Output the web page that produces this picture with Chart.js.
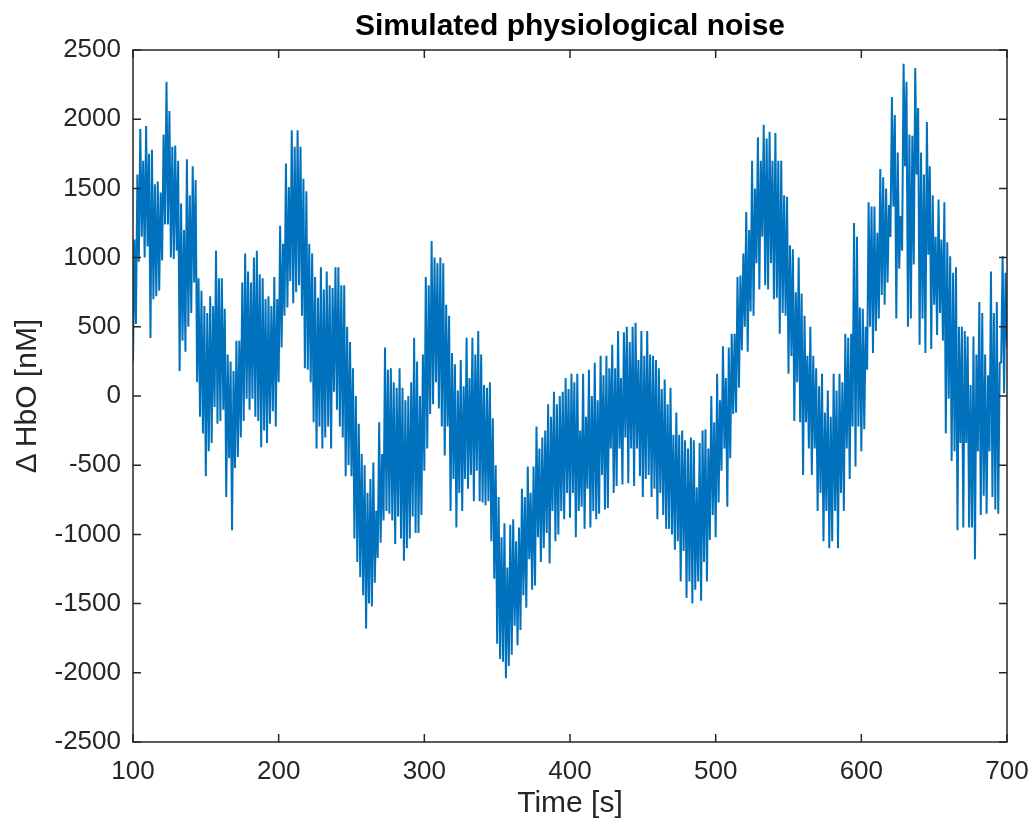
<!DOCTYPE html>
<html>
<head>
<meta charset="utf-8">
<title>Simulated physiological noise</title>
<script src="https://cdn.jsdelivr.net/npm/chart.js@4/dist/chart.umd.min.js"></script>
<style>
  html, body { margin: 0; padding: 0; background: #fff; }
</style>
</head>
<body>
<canvas id="grafico" width="1033" height="827"></canvas>
<script>
// amostragem: um valor por segundo, de 100 s a 700 s
const tInicio = 100;
const tPasso = 1;

// ΔHbO [nM] (picos, vales e o miolo da faixa), 20 s por linha
const hbo = [
  250, 1130, 520, 1600, 970, 1930, 1150, 1700, 1000, 1950, 1080, 1750, 420, 1780, 700, 1530, 720, 1550, 760, 1470,                 // 100
  980, 1890, 1240, 2270, 1240, 2060, 1000, 1800, 990, 1810, 1050, 1700, 180, 1390, 400, 1200, 320, 1710, 500, 1450,                 // 120
  600, 1660, 820, 1560, 100, 850, -150, 760, -270, 650, -580, 600, -400, 720, -340, 650, -80, 1050, -200, 850,                      // 140
  -180, 850, -100, 630, -730, 300, -450, 250, -970, 180, -520, 400, -440, 400, -300, 820, -180, 1030, -20, 900,                     // 160
  -100, 820, -20, 1000, -150, 1050, -180, 880, -370, 850, -250, 700, -340, 720, -200, 650, -110, 860, -220, 700,                    // 180
  100, 1230, 350, 1100, 580, 1680, 640, 1510, 830, 1920, 670, 1800, 750, 1920, 800, 1800, 580, 1570, 200, 1480,                     // 200
  190, 1100, 100, 1030, -190, 860, -380, 710, -220, 930, -380, 770, -300, 900, -220, 800, -380, 780, 30, 930,                       // 220
  -100, 930, -220, 800, -300, 800, -580, 500, -500, 390, -580, 200, -1030, 0, -1200, -200, -1310, -420, -1440, -500,                // 240
  -1680, -700, -1500, -600, -1520, -480, -1350, -830, -1170, -190, -1060, -420, -900, 350, -830, 190, -850, 200, -900, 100,         // 260
  -1070, 60, -870, 200, -1030, 60, -1190, -30, -1100, 0, -1030, 100, -870, 420, -990, 250, -990, 0, -860, 300,                      // 280
  -540, 860, -380, 800, -130, 1120, -60, 1000, 100, 960, -90, 1000, -220, 960, -430, 660, -220, 580, -830, 310,                     // 300
  -600, 230, -950, 40, -700, 260, -830, 70, -600, 420, -670, 130, -570, 420, -760, 300, -540, 470, -760, 300,                       // 320
  -770, 80, -790, 60, -760, 100, -1050, -160, -1320, -500, -1790, -730, -1900, -1020, -1920, -920, -2040, -1240, -1950, -930,       // 340
  -1870, -890, -1660, -1050, -1800, -950, -1690, -670, -1440, -730, -1530, -510, -1180, -700, -1400, -510, -1370, -220, -1020, -380,// 360
  -1200, -300, -1100, -250, -990, -60, -1210, -150, -830, 30, -1050, -60, -1000, 0, -830, 30, -890, 130, -700, 50,                  // 380
  -880, 160, -700, 100, -1020, 160, -830, -250, -800, 160, -960, -150, -670, 190, -950, 0, -830, 240, -890, -30,                    // 400
  -850, 290, -570, 150, -820, 290, -810, 200, -380, 370, -700, 200, -650, 470, -380, 130, -640, 460, -300, 500,                     // 420
  -630, 390, -380, 500, -650, 530, -380, 260, -580, 470, -730, 290, -600, 470, -570, 300, -730, 290, -670, 260,                     // 440
  -890, 200, -700, 50, -860, 120, -960, -60, -960, 60, -1000, -280, -1110, -120, -1050, -280, -1340, -250, -1120, -320,             // 460
  -1460, -380, -1340, -300, -1500, -320, -1400, -660, -1340, -340, -1480, -250, -1200, -240, -1340, -380, -1040, 0, -860, -190,     // 480
  -1020, 160, -770, -30, -540, 360, -380, 130, -800, 350, -450, 450, -130, 450, -120, 860, 60, 870, 330, 1030,                      // 500
  500, 1330, 320, 1200, 610, 1700, 580, 1500, 960, 1870, 770, 1700, 1150, 1960, 800, 1860, 770, 1910, 960, 1700,                    // 520
  700, 1900, 710, 1700, 450, 1700, 600, 1450, 580, 1440, 160, 1090, 290, 1060, -180, 750, 100, 1000, -190, 740,                     // 540
  -570, 580, -190, 290, -380, 500, -570, 290, -380, 200, -830, 70, -700, 160, -1050, -120, -830, 40, -1100, -150,                   // 560
  -1050, 160, -830, 40, -1100, 160, -700, 100, -830, 450, -380, 420, -600, 450, -220, 1250, -510, 1150, -220, 640,                  // 580
  -400, 630, -240, 500, 190, 1400, 500, 1370, 310, 1370, 470, 1180, 560, 1640, 730, 1580, 660, 1500, 820, 1380,                     // 600
  1150, 2160, 1370, 2030, 560, 1760, 920, 1300, 1050, 2400, 1660, 2270, 500, 1890, 560, 1880, 950, 2370, 1600, 2080,                // 620
  370, 1760, 560, 1600, 310, 1980, 1020, 1660, 340, 1450, 660, 1150, 440, 1420, 600, 1130, 400, 1400, -270, 1110,                   // 640
  -20, 1010, -470, 890, -400, 930, -970, 500, -340, 500, -950, 470, -340, 430, -950, 80, -950, 430, -1180, 300,                     // 660
  -400, 680, -860, 600, -720, 300, -850, 150, -400, 900, -730, 600, -820, 680, -850, 240, 240, 1010, 20, 890,                       // 680
  350                                                                                                                              // 700
];

const xTicks = [100, 200, 300, 400, 500, 600, 700];
const yTicks = [-2500, -2000, -1500, -1000, -500, 0, 500, 1000, 1500, 2000, 2500];
const titulo = 'Simulated physiological noise';

const fonte = '"Liberation Sans", Helvetica, Arial, sans-serif';
const corEixo = '#262626';

const pontos = hbo.map((v, i) => ({ x: tInicio + i * tPasso, y: v }));

// caixa estilo MATLAB com marcas para dentro nos quatro lados + título centrado na área
const caixa = {
  id: 'caixa',
  afterDatasetsDraw(chart) {
    const { ctx, chartArea: a, scales: { x, y } } = chart;
    const tam = 8;
    ctx.save();
    ctx.strokeStyle = corEixo;
    ctx.lineWidth = 1.5;
    ctx.strokeRect(a.left, a.top, a.right - a.left, a.bottom - a.top);
    ctx.beginPath();
    xTicks.forEach(v => {
      const px = x.getPixelForValue(v);
      ctx.moveTo(px, a.bottom); ctx.lineTo(px, a.bottom - tam);
      ctx.moveTo(px, a.top); ctx.lineTo(px, a.top + tam);
    });
    yTicks.forEach(v => {
      const py = y.getPixelForValue(v);
      ctx.moveTo(a.left, py); ctx.lineTo(a.left + tam, py);
      ctx.moveTo(a.right, py); ctx.lineTo(a.right - tam, py);
    });
    ctx.stroke();

    ctx.fillStyle = '#000';
    ctx.font = 'bold 30px ' + fonte;
    ctx.textAlign = 'center';
    ctx.textBaseline = 'middle';
    ctx.fillText(titulo, (a.left + a.right) / 2, 27);
    ctx.restore();
  }
};

const ctx = document.getElementById('grafico').getContext('2d');
const grafico = new Chart(ctx, {
  type: 'line',
  data: {
    datasets: [{
      data: pontos,
      borderColor: '#0072BD',
      borderWidth: 2,
      borderJoinStyle: 'bevel',
      pointRadius: 0,
      tension: 0,
      fill: false
    }]
  },
  options: {
    responsive: false,
    animation: false,
    layout: { padding: { left: 0, right: 26, top: 50, bottom: 0 } },
    plugins: {
      legend: { display: false },
      tooltip: { enabled: false },
      title: { display: false }
    },
    scales: {
      x: {
        type: 'linear',
        min: 100,
        max: 700,
        afterBuildTicks: s => { s.ticks = xTicks.map(v => ({ value: v })); },
        afterFit: s => { s.height = 85; s.paddingLeft = 0; s.paddingRight = 0; },
        grid: { display: false, drawTicks: false },
        border: { display: false },
        ticks: {
          color: corEixo,
          padding: 14,
          maxRotation: 0,
          callback: v => String(v),
          font: { family: fonte, size: 26 }
        },
        title: {
          display: true,
          text: 'Time [s]',
          color: corEixo,
          padding: { top: 0, bottom: 5 },
          font: { family: fonte, size: 30 }
        }
      },
      y: {
        min: -2500,
        max: 2500,
        afterBuildTicks: s => { s.ticks = yTicks.map(v => ({ value: v })); },
        afterFit: s => { s.width = 133; s.paddingTop = 0; s.paddingBottom = 0; },
        grid: { display: false, drawTicks: false },
        border: { display: false },
        ticks: {
          color: corEixo,
          padding: 12,
          callback: v => String(v),
          font: { family: fonte, size: 26 }
        },
        title: {
          display: true,
          text: '\u0394\u2009HbO [nM]',
          color: corEixo,
          padding: { top: 10, bottom: 0 },
          font: { family: fonte, size: 30 }
        }
      }
    }
  },
  plugins: [caixa]
});
</script>
</body>
</html>
